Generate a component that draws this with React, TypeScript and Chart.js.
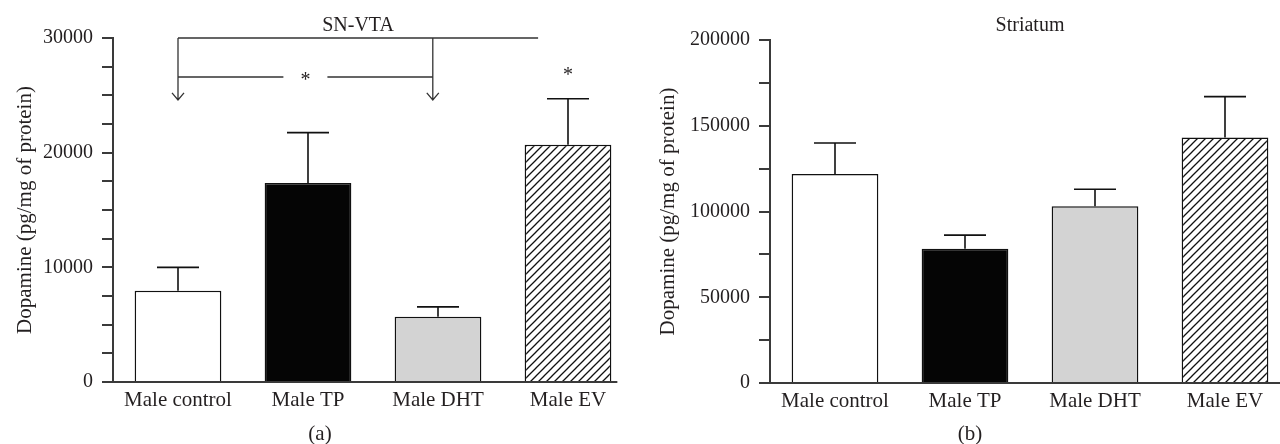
import React, { useEffect, useRef } from 'react';
import { Chart, registerables } from 'chart.js';

Chart.register(...registerables);

// ---------- data ----------
const categories = ['Male control', 'Male TP', 'Male DHT', 'Male EV'];

const snVtaMeans = [7950, 17350, 5700, 20700];
const snVtaSem = [2050, 4400, 850, 4000];
const snVtaMax = 30000;
const snVtaStep = 2500;
const snVtaLabelStep = 10000;

const striatumMeans = [121900, 78300, 103100, 143200];
const striatumSem = [18000, 7900, 9900, 23800];
const striatumMax = 200000;
const striatumStep = 25000;
const striatumLabelStep = 50000;

// significance annotation (SN-VTA)
const bracketTopLevel = 30000;
const bracketMidLevel = 26600;
const bracketTipLevel = 24600;
const bracketFromIndex = 0;
const bracketToIndex = 1.96;
const bracketTopEndIndex = 2.77;
const evStarIndex = 3;
const evStarLevel = 27000;

const yTitle = 'Dopamine (pg/mg of protein)';

// ---------- style ----------
const FONT = "'Liberation Serif', 'Times New Roman', serif";
const INK = '#231f20';
const AXIS = '#3a3a3a';

function makeHatch(ctx: CanvasRenderingContext2D): CanvasPattern | string {
  const s = 8;
  const c = document.createElement('canvas');
  c.width = s;
  c.height = s;
  const g = c.getContext('2d');
  if (!g) return '#ffffff';
  g.fillStyle = '#ffffff';
  g.fillRect(0, 0, s, s);
  g.strokeStyle = '#111111';
  g.lineWidth = 1.3;
  g.beginPath();
  g.moveTo(-1, s + 1);
  g.lineTo(s + 1, -1);
  g.moveTo(-1, 1);
  g.lineTo(1, -1);
  g.moveTo(s - 1, s + 1);
  g.lineTo(s + 1, s - 1);
  g.stroke();
  return ctx.createPattern(c, 'repeat') || '#ffffff';
}

const annotate = {
  id: 'annotate',
  afterDatasetsDraw(chart: any, _args: any, o: any) {
    const { ctx, chartArea: ca, scales } = chart;
    const xs = scales.x;
    const ys = scales.y;
    const meta = chart.getDatasetMeta(0);
    ctx.save();

    // x axis line
    const y0 = ys.getPixelForValue(0);
    const last = meta.data[meta.data.length - 1];
    const xEnd = o.axisToEdge ? chart.width : last.x + last.width / 2 + 6;
    ctx.strokeStyle = AXIS;
    ctx.lineWidth = 2;
    ctx.beginPath();
    ctx.moveTo(ca.left - 11, y0);
    ctx.lineTo(xEnd, y0);
    ctx.stroke();

    // error bars (upper only)
    ctx.strokeStyle = '#111111';
    ctx.lineWidth = 1.6;
    meta.data.forEach((bar: any, i: number) => {
      const yTop = ys.getPixelForValue(o.means[i]);
      const yCap = ys.getPixelForValue(o.means[i] + o.sem[i]);
      ctx.beginPath();
      ctx.moveTo(bar.x, yTop);
      ctx.lineTo(bar.x, yCap);
      ctx.moveTo(bar.x - 21, yCap);
      ctx.lineTo(bar.x + 21, yCap);
      ctx.stroke();
    });

    ctx.fillStyle = INK;
    ctx.font = `20px ${FONT}`;

    // brackets
    if (o.brackets) {
      const xa = xs.getPixelForValue(bracketFromIndex);
      const xb = xs.getPixelForValue(bracketToIndex);
      const xc = xs.getPixelForValue(bracketTopEndIndex);
      const yT = ys.getPixelForValue(bracketTopLevel);
      const yM = ys.getPixelForValue(bracketMidLevel);
      const yA = ys.getPixelForValue(bracketTipLevel);
      const xm = (xa + xb) / 2;
      ctx.strokeStyle = '#333333';
      ctx.lineWidth = 1.3;
      ctx.beginPath();
      ctx.moveTo(xa, yT);
      ctx.lineTo(xc, yT);
      [xa, xb].forEach((xx) => {
        ctx.moveTo(xx, yT);
        ctx.lineTo(xx, yA);
        ctx.moveTo(xx - 6, yA - 7);
        ctx.lineTo(xx, yA);
        ctx.lineTo(xx + 6, yA - 7);
      });
      ctx.moveTo(xa, yM);
      ctx.lineTo(xm - 22, yM);
      ctx.moveTo(xm + 22, yM);
      ctx.lineTo(xb, yM);
      ctx.stroke();
      ctx.textAlign = 'center';
      ctx.textBaseline = 'alphabetic';
      ctx.fillText('*', xm, yM + 9);
      ctx.fillText('*', xs.getPixelForValue(evStarIndex), ys.getPixelForValue(evStarLevel) + 9);
    }

    // title
    ctx.textAlign = 'center';
    ctx.textBaseline = 'alphabetic';
    ctx.fillText(o.title, xs.getPixelForValue(o.titleIndex), 31);

    // panel letter
    ctx.font = `21px ${FONT}`;
    ctx.textBaseline = 'middle';
    ctx.fillText(o.letter, chart.width / 2, 434);

    // y title
    ctx.save();
    ctx.translate(o.yTitleX, (ca.top + ca.bottom) / 2);
    ctx.rotate(-Math.PI / 2);
    ctx.textAlign = 'center';
    ctx.textBaseline = 'middle';
    ctx.fillText(yTitle, 0, 0);
    ctx.restore();

    ctx.restore();
  },
};

type PanelProps = {
  left: number;
  width: number;
  means: number[];
  sem: number[];
  max: number;
  step: number;
  labelStep: number;
  yWidth: number;
  padTop: number;
  padRight: number;
  xHeight: number;
  title: string;
  titleIndex: number;
  letter: string;
  yTitleX: number;
  brackets: boolean;
  axisToEdge: boolean;
};

function Panel(p: PanelProps) {
  const ref = useRef<HTMLCanvasElement>(null);
  useEffect(() => {
    const canvas = ref.current;
    if (!canvas) return;
    const ctx = canvas.getContext('2d') as CanvasRenderingContext2D;
    const hatch = makeHatch(ctx);
    const chart = new Chart(canvas, {
      type: 'bar',
      data: {
        labels: categories,
        datasets: [
          {
            data: p.means,
            backgroundColor: ['#ffffff', '#050505', '#d3d3d3', hatch] as any,
            borderColor: '#111111',
            borderWidth: 1.5,
            barPercentage: 0.667,
            categoryPercentage: 1,
          },
        ],
      },
      options: {
        responsive: false,
        animation: false,
        layout: { padding: { left: 0, right: p.padRight, top: p.padTop, bottom: 0 } },
        plugins: {
          legend: { display: false },
          tooltip: { enabled: false },
          annotate: {
            means: p.means,
            sem: p.sem,
            title: p.title,
            titleIndex: p.titleIndex,
            letter: p.letter,
            yTitleX: p.yTitleX,
            brackets: p.brackets,
            axisToEdge: p.axisToEdge,
          },
        } as any,
        scales: {
          x: {
            type: 'category',
            offset: true,
            grid: { display: false, drawTicks: false },
            border: { display: false },
            ticks: {
              color: INK,
              font: { size: 21, family: FONT },
              padding: 6,
              maxRotation: 0,
              autoSkip: false,
            },
            afterFit: (s: any) => {
              s.height = p.xHeight;
            },
          },
          y: {
            min: 0,
            max: p.max,
            grid: {
              display: true,
              drawOnChartArea: false,
              drawTicks: true,
              tickLength: 11,
              color: AXIS,
              lineWidth: 2,
            },
            border: { display: true, color: AXIS, width: 2 },
            ticks: {
              stepSize: p.step,
              autoSkip: false,
              padding: 9,
              color: INK,
              font: { size: 20, family: FONT },
              callback: (v: any) => (Number(v) % p.labelStep === 0 ? String(v) : ''),
            },
            afterFit: (s: any) => {
              s.width = p.yWidth;
            },
          },
        },
      },
      plugins: [annotate as any],
    });
    return () => chart.destroy();
  }, []);
  return (
    <canvas
      ref={ref}
      width={p.width}
      height={444}
      style={{ position: 'absolute', left: p.left, top: 0, width: p.width, height: 444 }}
    />
  );
}

export default function App() {
  return (
    <div
      style={{
        position: 'absolute',
        left: 0,
        top: 0,
        width: 1280,
        height: 444,
        overflow: 'hidden',
        background: '#ffffff',
      }}
    >
      <Panel
        left={0}
        width={640}
        means={snVtaMeans}
        sem={snVtaSem}
        max={snVtaMax}
        step={snVtaStep}
        labelStep={snVtaLabelStep}
        yWidth={113}
        padTop={38}
        padRight={7}
        xHeight={62}
        title="SN-VTA"
        titleIndex={(bracketFromIndex + bracketTopEndIndex) / 2}
        letter="(a)"
        yTitleX={25}
        brackets={true}
        axisToEdge={false}
      />
      <Panel
        left={640}
        width={660}
        means={striatumMeans}
        sem={striatumSem}
        max={striatumMax}
        step={striatumStep}
        labelStep={striatumLabelStep}
        yWidth={130}
        padTop={40}
        padRight={10}
        xHeight={61}
        title="Striatum"
        titleIndex={1.5}
        letter="(b)"
        yTitleX={28}
        brackets={false}
        axisToEdge={true}
      />
    </div>
  );
}
